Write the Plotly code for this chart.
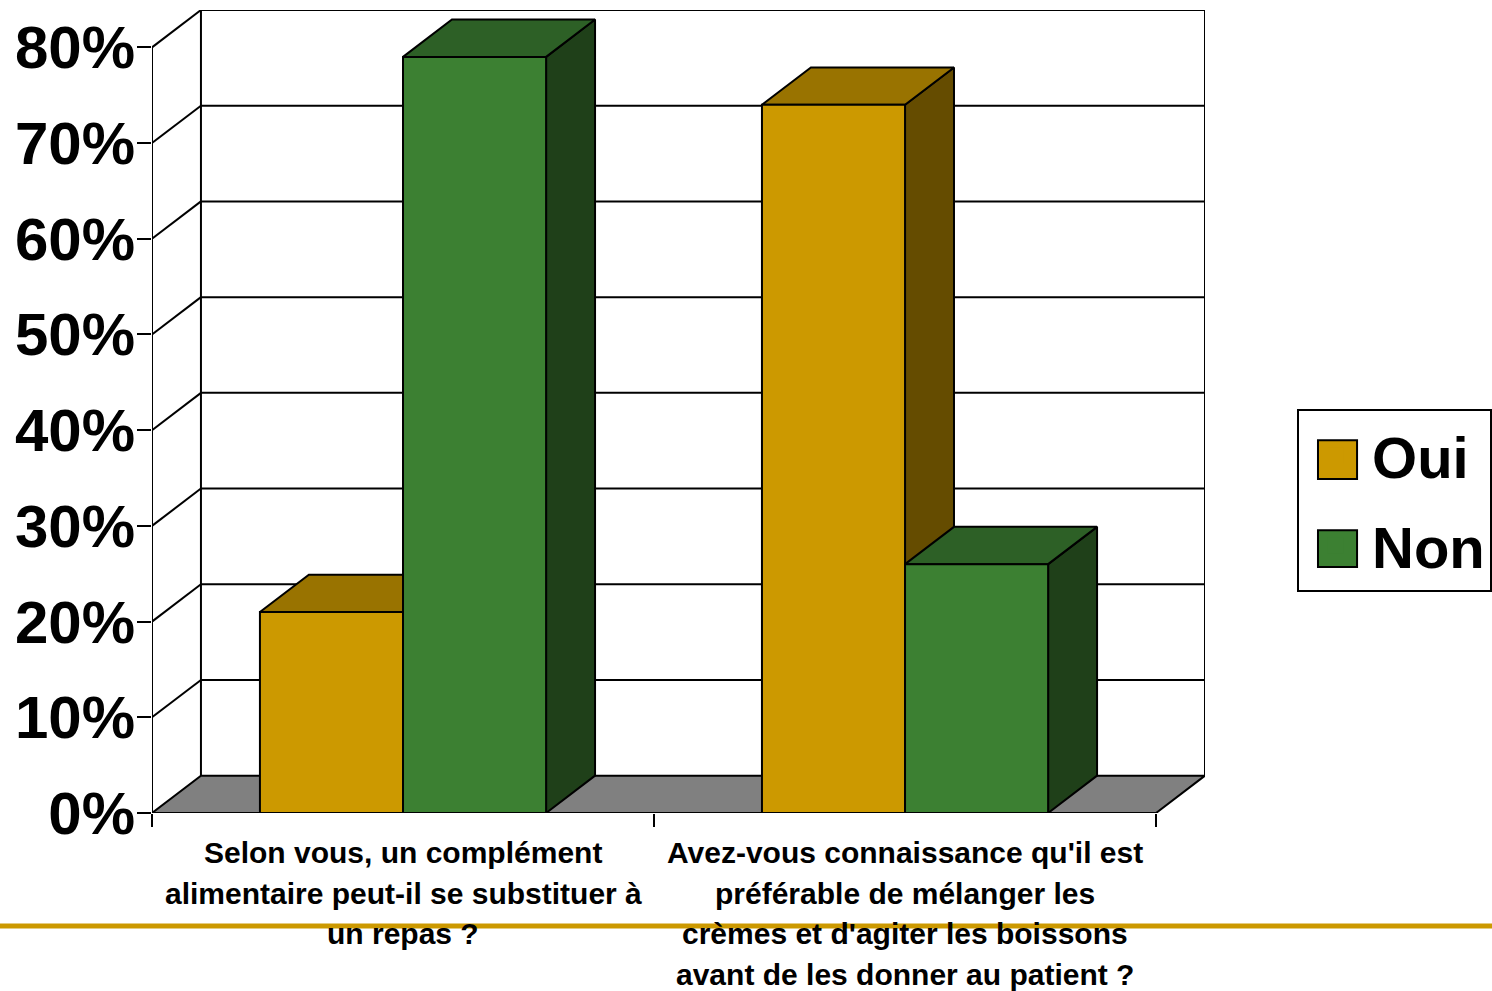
import plotly.graph_objects as go

# ---------------- data ----------------
categories = [
    "Selon vous, un complément<br>alimentaire peut-il se substituer à<br>un repas ?",
    "Avez-vous connaissance qu'il est<br>préférable de mélanger les<br>crèmes et d'agiter les boissons<br>avant de les donner au patient ?",
]
series_names = ["Oui", "Non"]
oui_values = [21, 74]
non_values = [79, 26]
y_tick_values = [0, 10, 20, 30, 40, 50, 60, 70, 80]
y_tick_labels = ["0%", "10%", "20%", "30%", "40%", "50%", "60%", "70%", "80%"]

# ---------------- style ----------------
FONT = "Liberation Sans, Arial, sans-serif"
front_colors = ["#CC9900", "#3C8032"]
top_colors = ["#997300", "#2D6026"]
side_colors = ["#654C00", "#1F4019"]
FLOOR = "#808080"
EDGE = "black"
LW = 2

GAP = 0.215      # gap before first bar in a category (category units)
BARW = 0.285     # bar width (category units)
DX = 0.0975      # depth offset along x (category units)
DY = 3.9         # depth offset along y (percent units)

ymax = y_tick_values[-1]
ncat = len(categories)
values = [oui_values, non_values]

fig = go.Figure()


def poly(xs, ys, fill):
    fig.add_trace(go.Scatter(
        x=xs + [xs[0]], y=ys + [ys[0]], mode="lines", fill="toself",
        fillcolor=fill, line=dict(color=EDGE, width=LW),
        hoverinfo="skip", showlegend=False))


# floor
poly([0, ncat, ncat + DX, DX], [0, 0, DY, DY], FLOOR)

# walls & grid lines
gx, gy = [], []
for v in y_tick_values[1:]:
    gx += [DX, ncat + DX, None, 0, DX, None]
    gy += [v + DY, v + DY, None, v, v + DY, None]
gx += [DX, DX, None, ncat + DX, ncat + DX, None, 0, 0, None, 0, ncat]
gy += [DY, ymax + DY, None, DY, ymax + DY, None, 0, ymax, None, 0, 0]
fig.add_trace(go.Scatter(x=gx, y=gy, mode="lines",
                         line=dict(color=EDGE, width=LW),
                         hoverinfo="skip", showlegend=False))

# 3D bars
for c in range(ncat):
    for s in range(len(series_names)):
        v = values[s][c]
        x0 = c + GAP + s * BARW
        x1 = x0 + BARW
        poly([x1, x1 + DX, x1 + DX, x1], [0, DY, v + DY, v], side_colors[s])
        poly([x0, x1, x1 + DX, x0 + DX], [v, v, v + DY, v + DY], top_colors[s])
        poly([x0, x1, x1, x0], [0, 0, v, v], front_colors[s])

# legend entries (swatches drawn as shapes, large like the original)
for s, name in enumerate(series_names):
    fig.add_trace(go.Scatter(
        x=[None], y=[None], mode="markers", name=name,
        marker=dict(symbol="square", size=16, color=front_colors[s], opacity=0),
        legendgroup=name, hoverinfo="skip"))

annotations = []
for c, label in enumerate(categories):
    for i, line in enumerate(label.split("<br>")):
        annotations.append(dict(
            x=c + 0.5, xref="x", y=-0.026, yref="paper", yanchor="top",
            yshift=-40.7 * i,
            xanchor="center", text="<b>" + line + "</b>", showarrow=False,
            align="center", font=dict(family=FONT, size=30, color="black")))

shapes = [
    dict(type="line", xref="paper", yref="paper", x0=-0.2, x1=1.3,
         y0=-0.1407, y1=-0.1407, line=dict(color="#CC9900", width=5),
         layer="below"),
]
sw_y = [(0.4643, 0.4158), (0.3522, 0.3062)]
for s in range(len(series_names)):
    shapes.append(dict(type="rect", xref="paper", yref="paper",
                       x0=1.1073, x1=1.1444, y0=sw_y[s][1], y1=sw_y[s][0],
                       fillcolor=front_colors[s], line=dict(color=EDGE, width=2),
                       layer="above"))

fig.update_layout(
    width=1492, height=991,
    margin=dict(l=152, r=287, t=10, b=178, autoexpand=False),
    paper_bgcolor="white", plot_bgcolor="white",
    font=dict(family=FONT, color="black"),
    xaxis=dict(range=[0, ncat + DX], tickvals=list(range(ncat + 1)),
               ticktext=[""] * (ncat + 1), ticks="outside", ticklen=13,
               tickwidth=2, tickcolor="black", showgrid=False,
               zeroline=False, showline=False, fixedrange=True),
    yaxis=dict(range=[0, ymax + DY], tickvals=y_tick_values,
               ticktext=["<b>" + t + "</b>" for t in y_tick_labels],
               ticks="outside", ticklen=14, tickwidth=2, tickcolor="black",
               ticklabelstandoff=-10,
               tickfont=dict(family=FONT, size=60, color="black"),
               showgrid=False, zeroline=False, showline=False, fixedrange=True),
    showlegend=True,
    legend=dict(x=1.0874, y=0.503, xanchor="left", yanchor="top",
                bgcolor="rgba(0,0,0,0)", bordercolor="black", borderwidth=2,
                font=dict(family=FONT, size=58, color="black", weight="bold"),
                itemwidth=63, traceorder="grouped", tracegroupgap=12),
    annotations=annotations,
    shapes=shapes,
)

fig.write_html(
    "out.html",
    config={"displayModeBar": False},
    post_script="document.body.style.margin='0';document.body.style.overflow='hidden';",
)
